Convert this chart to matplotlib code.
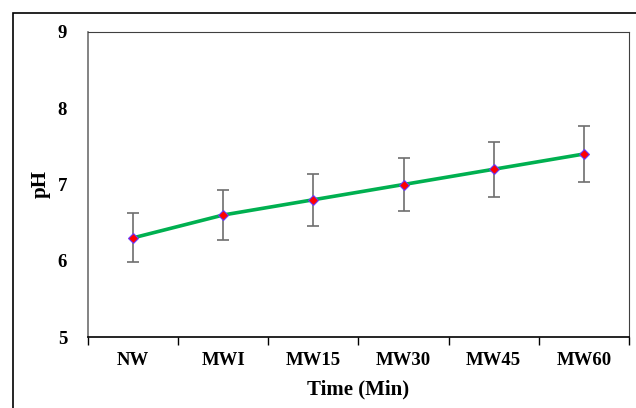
import matplotlib
matplotlib.use("Agg")
import matplotlib.pyplot as plt
from matplotlib.patches import Rectangle
import numpy as np

categories = ["NW", "MWI", "MW15", "MW30", "MW45", "MW60"]
ph = [6.3, 6.6, 6.8, 7.0, 7.2, 7.4]
ph_err = [0.32, 0.33, 0.34, 0.35, 0.36, 0.37]
yticks = [5, 6, 7, 8, 9]

plt.rcParams['font.family'] = ['Liberation Serif', 'DejaVu Serif']
plt.rcParams['font.weight'] = 'bold'

fig = plt.figure(figsize=(6.36, 4.08), dpi=100)
ax = fig.add_axes([88/636, 1 - 337/408, (629 - 88)/636, (337 - 32)/408])

x = np.arange(len(categories))
ax.errorbar(x, ph, yerr=ph_err, fmt='none', ecolor='#6e6e6e', elinewidth=1.2,
            capsize=4, capthick=1.2, zorder=2)
ax.plot(x, ph, color='#00b050', linewidth=2.6, zorder=3)
ax.plot(x, ph, linestyle='none', marker='D', markersize=5,
        markerfacecolor='red', markeredgecolor='#6a3cff', markeredgewidth=0.8, zorder=4)

ax.set_xlim(-0.5, len(categories) - 0.5)
ax.set_ylim(5, 9)
ax.set_yticks(yticks)
ax.set_xticks(x)
ax.set_xticklabels(categories)
ax.set_xticks(np.arange(-0.5, len(categories)), minor=True)
ax.tick_params(axis='x', which='major', length=0, pad=11, labelsize=13.5)
ax.tick_params(axis='x', which='minor', length=6, width=1, direction='out', color='black')
ax.tick_params(axis='y', length=0, pad=15, labelsize=13.5)
for lab in ax.get_xticklabels() + ax.get_yticklabels():
    lab.set_fontweight('bold')

ax.set_xlabel("Time (Min)", fontsize=15, fontweight='bold', labelpad=7)
ax.set_ylabel("pH", fontsize=15, fontweight='bold', labelpad=5)

ax.spines['left'].set_color('#6e6e6e')
ax.spines['left'].set_linewidth(1.2)
ax.spines['bottom'].set_color('black')
ax.spines['bottom'].set_linewidth(1.2)
ax.spines['top'].set_color('#404040')
ax.spines['top'].set_linewidth(0.8)
ax.spines['right'].set_color('#404040')
ax.spines['right'].set_linewidth(0.8)

# outer frame, runs off the right and bottom edges
fig.patches.append(Rectangle((13/636, -0.1), 1.2, 1.1 - 13/408, transform=fig.transFigure,
                             fill=False, edgecolor='black', linewidth=1.2))

fig.savefig("out.png", dpi=100)
